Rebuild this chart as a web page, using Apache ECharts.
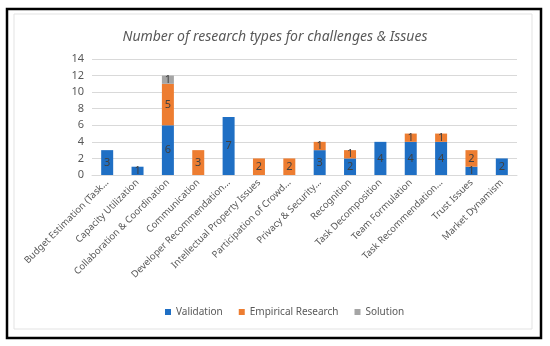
<!DOCTYPE html>
<html><head><meta charset="utf-8">
<script src="https://cdn.jsdelivr.net/npm/echarts@6/dist/echarts.min.js"></script>
<style>html,body{margin:0;padding:0;background:#fff}#c{width:550px;height:346px}</style>
</head><body><div id="c"></div>
<script>
const categories = ["Budget Estimation (Task...","Capacity Utilization","Collaboration & Coordination","Communication","Developer Recommendation...","Intellectual Property Issues","Participation of Crowd...","Privacy & Security...","Recognition","Task Decomposition","Team Formulation","Task Recommendation...","Trust Issues","Market Dynamism"];
const validation = [3,1,6,null,7,null,null,3,2,4,4,4,1,2];
const empirical = [null,null,5,3,null,2,2,1,1,null,1,1,2,null];
const solution = [null,null,1,null,null,null,null,null,null,null,null,null,null,null];
const yTicks = [0,2,4,6,8,10,12,14];

const chart = echarts.init(document.getElementById('c'), null, {renderer:'canvas'});
const lbl = {show:true, position:'inside', color:'#404040', fontSize:11, fontFamily:'Noto Sans'};
function ser(name, data, color){
  return {name, type:'bar', stack:'s', data, barWidth:12, itemStyle:{color}, label:lbl};
}
chart.setOption({
  animation:false,
  title:{text:'Number of research types for challenges & Issues', left:'center', top:25,
    textStyle:{fontStyle:'italic', fontWeight:'normal', fontSize:14, color:'#595959', fontFamily:'Noto Sans'}},
  legend:{top:302, left:160, itemWidth:6, itemHeight:6, itemGap:16, icon:'rect',
    textStyle:{color:'#595959', fontSize:10, fontFamily:'Noto Sans'},
    data:['Validation','Empirical Research','Solution']},
  grid:{left:92, right:33, top:59, bottom:171, containLabel:false},
  xAxis:{type:'category', data:categories,
    axisLine:{lineStyle:{color:'#d9d9d9'}}, axisTick:{show:false},
    axisLabel:{rotate:45, interval:0, color:'#595959', fontSize:9.5, fontFamily:'Noto Sans', margin:6}},
  yAxis:{type:'value', min:0, max:14, interval:2,
    axisLabel:{color:'#595959', fontSize:11, fontFamily:'Noto Sans', margin:8,
      formatter:v=>yTicks.includes(v)?String(v):''},
    splitLine:{lineStyle:{color:'#d9d9d9'}}, axisLine:{show:false}, axisTick:{show:false}},
  series:[ser('Validation',validation,'#1F6FC4'), ser('Empirical Research',empirical,'#ED7D31'), ser('Solution',solution,'#A5A5A5')],
  graphic:[
    {type:'rect', shape:{x:7,y:9,width:534,height:329}, style:{fill:'none', stroke:'#000', lineWidth:2.5}, z:-1},
    {type:'rect', shape:{x:14,y:14,width:518,height:315}, style:{fill:'none', stroke:'#e3e3e3', lineWidth:1}, z:-1}
  ]
});
</script></body></html>
